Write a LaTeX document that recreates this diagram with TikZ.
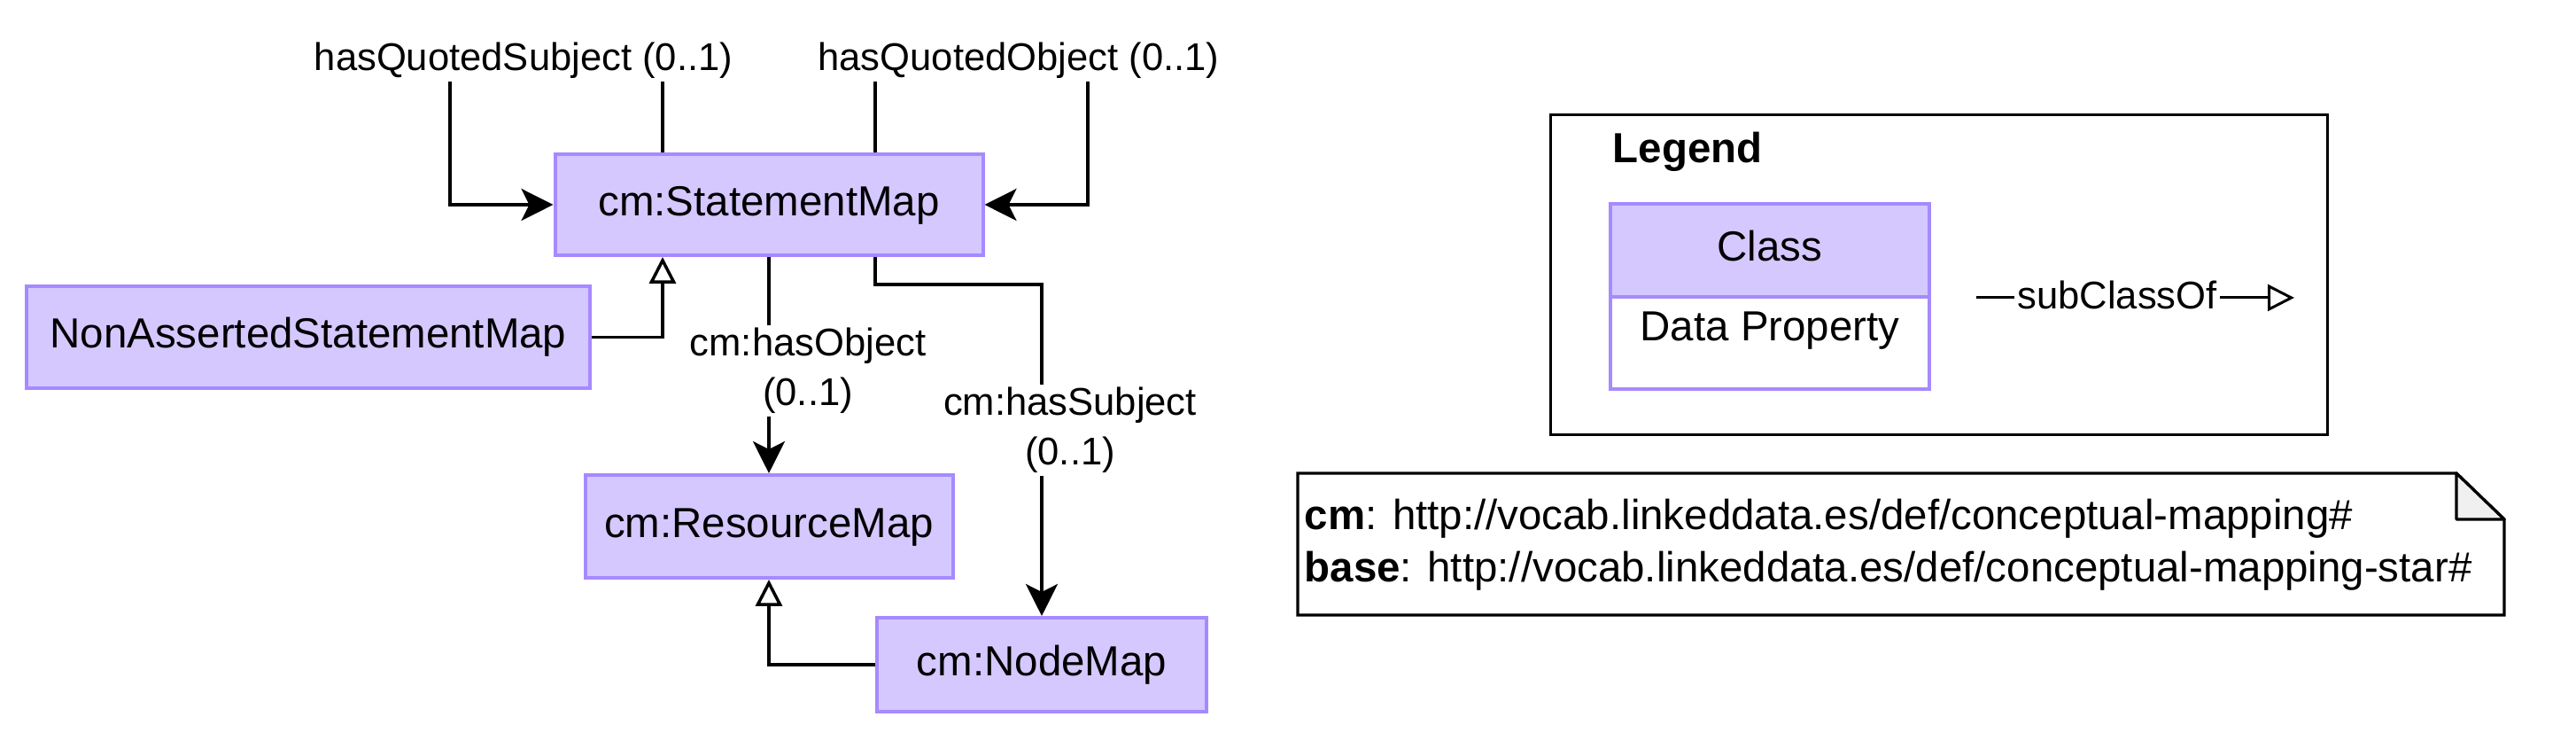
\documentclass[tikz,border=0pt]{standalone}
\usepackage{fontspec}
\setmainfont{Liberation Sans}
\usetikzlibrary{calc,positioning,arrows.meta,backgrounds}
\definecolor{CCLS}{RGB}{212,200,255}
\definecolor{CCLB}{RGB}{166,138,255}
\definecolor{CFLD}{RGB}{240,240,240}
\definecolor{CTXT}{RGB}{0,0,0}

\begin{document}
\begin{tikzpicture}[font=\fontsize{13.5}{16.5}\selectfont,
  txt/.style={text height=0.905em,text depth=0.212em},
  cls/.style={txt,draw=CCLB,fill=CCLS,line width=0.04cm,inner sep=0pt,text=CTXT},
  lbl/.style={fill=white,inner sep=1pt,font=\fontsize{12.4}{16}\selectfont},
  lblone/.style={lbl,txt,minimum height=0.5cm},
  rel/.style={line width=0.035cm,-{Stealth[length=0.36cm,width=0.36cm,inset=0.09cm]}},
  isa/.style={line width=0.035cm,-{Triangle[open,fill=white,length=0.30cm,width=0.30cm]}}]
  \useasboundingbox (0.0000cm,0.0000cm) rectangle (29.0800cm,8.4400cm);
  % — classes
  \node[cls,minimum width=4.8300cm,minimum height=1.1400cm] (sm) at (8.6800cm,6.1300cm) {cm:StatementMap};
  \node[cls,minimum width=6.3600cm,minimum height=1.1500cm] (nasm) at (3.4800cm,4.6350cm) {NonAssertedStatementMap};
  \node[cls,minimum width=4.1500cm,minimum height=1.1600cm] (rm) at (8.6800cm,2.5000cm) {cm:ResourceMap};
  \node[cls,minimum width=3.7200cm,minimum height=1.0600cm] (nm) at (11.7600cm,0.9400cm) {cm:NodeMap};
  \begin{scope}[on background layer]
    \fill[white] (0.0000cm,0.0000cm) rectangle (29.0800cm,8.4400cm);
    % — quoted loops
    \coordinate (qsubjturn) at (5.0800cm,7.7900cm);
    \coordinate (qobjturn) at (12.2800cm,7.7900cm);
    \draw[rel] ([xshift=-1.2000cm]sm.north) |- (qsubjturn) |- (sm.west);
    \draw[rel] ([xshift=1.2000cm]sm.north) |- (qobjturn) |- (sm.east);
    \node[lblone] (qsubj) at (5.9100cm,7.7700cm) {hasQuotedSubject (0..1)};
    \node[lblone] (qobj) at (11.5000cm,7.7700cm) {hasQuotedObject (0..1)};
    % — object / subject
    \coordinate (subjturn) at (11.7600cm,5.2300cm);
    \draw[rel] (sm.south) -- (rm.north);
    \draw[rel] ([xshift=1.2000cm]sm.south) |- (subjturn) -- (nm.north);
    \node[lbl,align=center] (hasobj) at (9.1200cm,4.2550cm) {cm:hasObject\\(0..1)};
    \node[lbl,align=center] (hassubj) at (12.0800cm,3.5850cm) {cm:hasSubject\\(0..1)};
    % — subclasses
    \draw[isa] (nasm.east) -| ([xshift=-1.2000cm]sm.south);
    \draw[isa] (nm.west) -| (rm.south);
  \end{scope}
  % — legend
  \node[draw,line width=0.03cm,inner sep=0pt,minimum width=8.7700cm,minimum height=3.6100cm] (legend) at (21.8850cm,5.3350cm) {};
  \node[txt,font=\fontsize{13.5}{16.5}\selectfont\bfseries,anchor=west,inner sep=0pt] (legendtitle) at (18.2000cm,6.7300cm) {Legend};
  \node[draw=CCLB,fill=white,line width=0.04cm,inner sep=0pt,minimum width=3.6000cm,minimum height=1.0400cm] (lgprop) at (19.9800cm,4.5700cm) {};
  \node[txt,inner sep=0pt] (lgproptext) at (19.9800cm,4.7200cm) {Data Property};
  \node[cls,minimum width=3.6000cm,minimum height=1.0500cm] (lgcls) at (19.9800cm,5.6150cm) {Class};
  \coordinate (lgfrom) at (22.3100cm,5.0800cm);
  \coordinate (lgto) at (25.9000cm,5.0800cm);
  \draw[isa,line width=0.03cm] (lgfrom) -- (lgto);
  \node[lblone] (lgsub) at (23.9000cm,5.0800cm) {subClassOf};
  % — prefixes note
  \draw[line width=0.033cm,fill=white] (14.6500cm,3.1000cm) -- (27.7300cm,3.1000cm) -- (28.2700cm,2.5800cm) -- (28.2700cm,1.5000cm) -- (14.6500cm,1.5000cm) -- cycle;
  \draw[line width=0.033cm,fill=CFLD,line join=round] (27.7300cm,3.1000cm) -- (27.7300cm,2.5800cm) -- (28.2700cm,2.5800cm) -- cycle;
  \node[anchor=west,align=left,inner sep=0pt,font=\fontsize{13.5}{16.8}\selectfont] (prefixes) at (14.7200cm,2.2900cm) {\textbf{cm}: http://vocab.linkeddata.es/def/conceptual-mapping\#\\\textbf{base}: http://vocab.linkeddata.es/def/conceptual-mapping-star\#};
\end{tikzpicture}
\end{document}
